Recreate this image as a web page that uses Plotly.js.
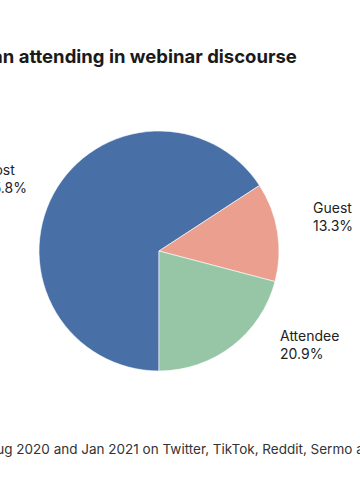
<!DOCTYPE html>
<html>
<head>
<meta charset="utf-8">
<script src="https://cdn.plot.ly/plotly-3.0.1.min.js"></script>
<style>
html,body{margin:0;padding:0;background:#fff;overflow:hidden;}
#chart{width:360px;height:500px;}
</style>
</head>
<body>
<div id="chart"></div>
<script>
var roles = ["Host", "Guest", "Attendee"];
var shares = [65.8, 13.3, 20.9];
var colors = ["#4870a6", "#ea9f8f", "#96c6a5"];
var titleText = "More hosting than attending in webinar discourse";
var captionPrefix = "Posts published between ";
var captionText = "Aug 2020 and Jan 2021 on Twitter, TikTok, Reddit, Sermo and Doximity";

var W = 360, H = 500;
function px(x){ return x / W; }
function py(y){ return 1 - y / H; }

// label placement (pixel positions of label blocks)
var labelPos = {
  "Host":     {x: -18, y: 162},
  "Guest":    {x: 311, y: 200},
  "Attendee": {x: 278, y: 328}
};

var FONT = "Inter, Lato, sans-serif";

var annotations = [];
annotations.push({
  xref: "paper", yref: "paper", x: px(299), y: py(56),
  xanchor: "right", yanchor: "middle", showarrow: false,
  text: "<b>" + titleText + "</b>",
  font: {family: FONT, size: 18.5, color: "#1a1a1a"}
});
annotations.push({
  xref: "paper", yref: "paper", x: px(-15), y: py(449),
  xanchor: "right", yanchor: "middle", showarrow: false,
  text: captionPrefix,
  font: {family: FONT, size: 13.5, color: "#333"}
});
annotations.push({
  xref: "paper", yref: "paper", x: px(-15), y: py(449),
  xanchor: "left", yanchor: "middle", showarrow: false,
  text: captionText,
  font: {family: FONT, size: 13.5, color: "#333"}
});
roles.forEach(function(r, i){
  var p = labelPos[r];
  annotations.push({
    xref: "paper", yref: "paper", x: px(p.x), y: py(p.y - 3),
    xanchor: "left", yanchor: "top", align: "left", showarrow: false,
    text: r + "<br>" + shares[i].toFixed(1) + "%",
    font: {family: FONT, size: 14, color: "#222"}
  });
});

var trace = {
  type: "pie",
  labels: roles,
  values: shares,
  sort: false,
  direction: "clockwise",
  rotation: 180,
  textinfo: "none",
  hoverinfo: "label+percent",
  marker: {colors: colors, line: {color: "#ffffff", width: 0.6}},
  domain: {x: [39/W, 279/W], y: [(H-371)/H, (H-131)/H]},
  showlegend: false
};

var layout = {
  width: W, height: H,
  margin: {l: 0, r: 0, t: 0, b: 0},
  paper_bgcolor: "#fff",
  plot_bgcolor: "#fff",
  showlegend: false,
  annotations: annotations,
  font: {family: FONT}
};

Plotly.newPlot("chart", [trace], layout, {displayModeBar: false, staticPlot: true});
</script>
</body>
</html>
